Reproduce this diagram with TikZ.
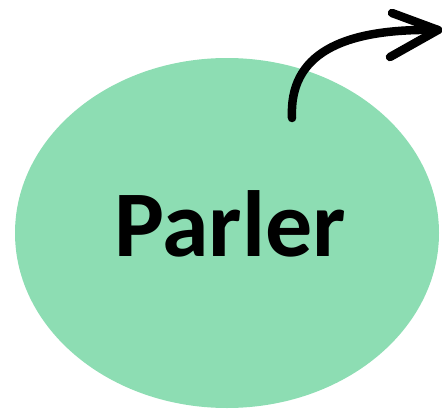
\documentclass[tikz,border=0pt]{standalone}
\usepackage{fontspec}
\setmainfont{Carlito}
\usetikzlibrary{positioning,shapes.geometric}
\definecolor{SpeakGreen}{RGB}{141,221,179}
\tikzset{
  bubble/.style={ellipse,fill=SpeakGreen,draw=none,minimum width=424pt,
    minimum height=350pt,inner sep=0pt},
  word/.style={font=\fontsize{94}{94}\selectfont\bfseries},
  stroke/.style={line width=8.5pt,line cap=round,line join=round,draw=black}
}
\begin{document}
\begin{tikzpicture}[x=1pt,y=-1pt]
  \useasboundingbox (0,0) rectangle (442,410);
  \node[bubble] (talk) at (227,233) {};
  \node[word] (label) at (230,224) {Parler};
  \coordinate (start) at (292,118);
  \coordinate (tip) at (438,30);
  \coordinate (barbA) at (392,13);
  \coordinate (barbB) at (390,57);
  \draw[stroke] (start) .. controls (289,55) and (340,28) .. (tip);
  \draw[stroke] (barbA) -- (tip) -- (barbB);
\end{tikzpicture}
\end{document}
